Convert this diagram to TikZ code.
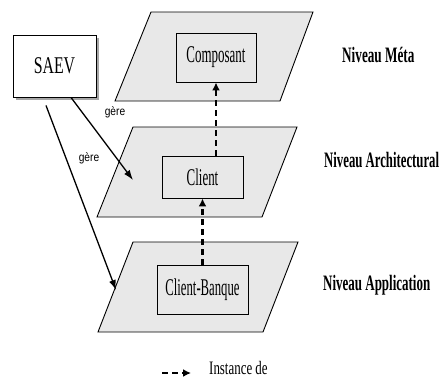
\documentclass[tikz,border=0pt]{standalone}
\usepackage{fontspec}
\usepackage{graphicx}
\setmainfont{Liberation Serif}
\newfontfamily\arialfont{Liberation Sans}
\usetikzlibrary{arrows.meta,shadows}
\newcommand{\condtext}[2]{\scalebox{#1}[1]{#2}}
\tikzset{
  plane/.style={draw=black, line width=0.9pt, fill=gray!18},
  inbox/.style={draw=black, line width=0.9pt, inner sep=0pt, font=\fontsize{24}{24}\selectfont},
  levellabel/.style={anchor=west, inner sep=0pt, font=\fontsize{22}{22}\selectfont\bfseries},
  gerelabel/.style={inner sep=0pt, font=\arialfont\fontsize{12}{12}\selectfont},
  manage/.style={draw=black, line width=1.3pt, -{Latex[length=10pt,width=7pt]}},
  instance/.style={draw=black, line width=2.2pt, dash pattern=on 6pt off 4pt, -{Latex[length=8pt,width=8pt]}},
}
\begin{document}
\begin{tikzpicture}[x=1pt,y=-1pt]
\useasboundingbox (0,0) rectangle (444,380);
% planes
\draw[plane] (151,12) -- (313,12) -- (280,101) -- (115,101) -- cycle;
\draw[plane] (133,127) -- (297,127) -- (262,217) -- (97,217) -- cycle;
\draw[plane] (133,242) -- (298,242) -- (263,332) -- (98,332) -- cycle;
% boxes
\node[inbox, minimum width=80pt, minimum height=49pt] (comp) at (216,57.5) {\condtext{0.54}{Composant}};
\node[inbox, minimum width=81pt, minimum height=42pt] (client) at (202.5,177) {\condtext{0.54}{Client}};
\node[inbox, minimum width=91pt, minimum height=49pt] (cb) at (202.5,289.5) {\condtext{0.53}{Client-Banque}};
\node[inbox, fill=white, minimum width=83pt, minimum height=62pt,
      drop shadow={shadow xshift=3pt, shadow yshift=-3pt, fill=gray!70, opacity=1}] (saev) at (54.5,66) {\condtext{0.66}{SAEV}};
% level labels
\node[levellabel] (lmeta) at (342,55) {\condtext{0.6}{Niveau Méta}};
\node[levellabel] (larch) at (324,160) {\condtext{0.58}{Niveau Architectural}};
\node[levellabel] (lapp) at (323,285) {\condtext{0.59}{Niveau Application}};
% manage arrows
\coordinate (g1end) at (133,180);
\coordinate (g2end) at (116,290);
\draw[manage] ([xshift=16.5pt]saev.south) -- (g1end);
\draw[manage] ([xshift=-8.5pt,yshift=-8pt]saev.south) -- (g2end);
\node[gerelabel] (gere1) at (115,112) {\condtext{0.85}{gère}};
\node[gerelabel] (gere2) at (89,158) {\condtext{0.85}{gère}};
% instance arrows
\draw[instance] (cb.north) -- (client.south);
\draw[instance] (client.north -| comp.south) -- (comp.south);
% legend
\coordinate (leg1) at (162,373);
\coordinate (leg2) at (191,373);
\draw[instance] (leg1) -- (leg2);
\node[anchor=west, inner sep=0pt, font=\fontsize{19}{19}\selectfont] (legtext) at (209,368) {\condtext{0.68}{Instance de}};
\end{tikzpicture}
\end{document}
